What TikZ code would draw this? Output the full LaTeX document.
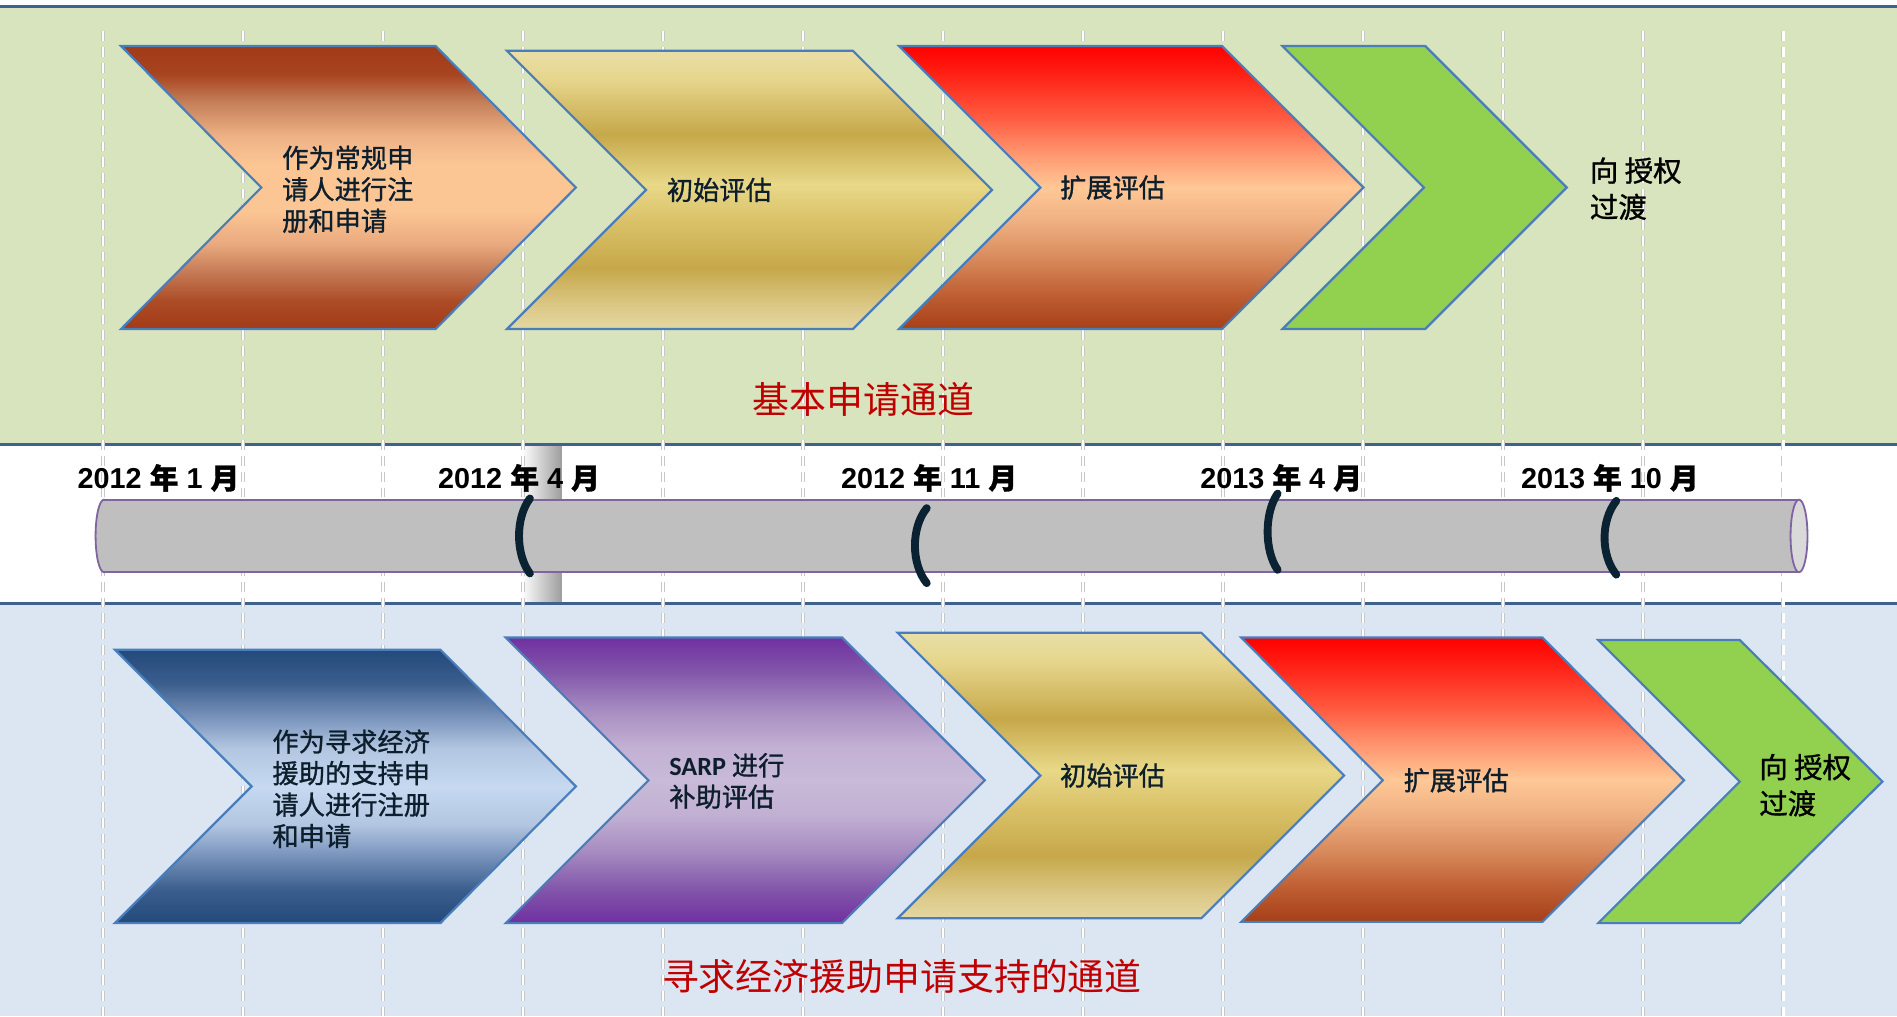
\documentclass[tikz,border=0pt]{standalone}
\usepackage{fontspec}
\newfontfamily\cjk{Noto Sans CJK SC}
\newfontfamily\cjkb{Noto Sans CJK SC}[FakeBold=1.1]
\newfontfamily\digf{Liberation Sans}
\newfontfamily\sarpf{Carlito}
\definecolor{bandG}{HTML}{D7E4BD}
\definecolor{bandB}{HTML}{DCE6F2}
\definecolor{bandL}{HTML}{3F618F}
\definecolor{stripe}{HTML}{9E9E9E}
\definecolor{cylfill}{HTML}{BFBFBF}
\definecolor{capfill}{HTML}{D9D9D9}
\definecolor{cylline}{HTML}{8064A2}
\definecolor{markc}{HTML}{0B2233}
\definecolor{chevline}{HTML}{4A7EBB}
\definecolor{chevtxt}{HTML}{0D1F2D}
\definecolor{titlered}{HTML}{C00000}
\definecolor{grn}{HTML}{92D050}
% brown
\definecolor{brA}{HTML}{A23A17}\definecolor{brB}{HTML}{A84420}\definecolor{brC}{HTML}{C5805A}
\definecolor{brD}{HTML}{EEB286}\definecolor{brE}{HTML}{FCC694}\definecolor{brF}{HTML}{E9A97E}
\definecolor{brG}{HTML}{C47A55}\definecolor{brH}{HTML}{AC4C27}
\pgfdeclareverticalshading{brownsh}{100bp}{color(0bp)=(brA); color(25bp)=(brA); color(30bp)=(brH); color(35bp)=(brG); color(40bp)=(brF); color(46bp)=(brE); color(54bp)=(brE); color(59bp)=(brD); color(65bp)=(brC); color(70bp)=(brB); color(75bp)=(brA); color(100bp)=(brA)}
% gold
\definecolor{goA}{HTML}{E8DFA8}\definecolor{goB}{HTML}{E6D68C}\definecolor{goC}{HTML}{C6A84A}
\definecolor{goD}{HTML}{E8D888}\definecolor{goE}{HTML}{D9C067}\definecolor{goF}{HTML}{DCC988}
\definecolor{goG}{HTML}{E3D7A2}
\pgfdeclareverticalshading{goldsh}{100bp}{color(0bp)=(goG); color(25bp)=(goG); color(29bp)=(goF); color(36bp)=(goC); color(44bp)=(goE); color(51bp)=(goD); color(60bp)=(goC); color(70bp)=(goB); color(75bp)=(goA); color(100bp)=(goA)}
% red
\definecolor{reA}{HTML}{FF0000}\definecolor{reB}{HTML}{FF1A10}\definecolor{reC}{HTML}{FF5A40}
\definecolor{reD}{HTML}{FF9670}\definecolor{reE}{HTML}{FFC896}\definecolor{reF}{HTML}{EFB081}
\definecolor{reG}{HTML}{D88A5C}\definecolor{reH}{HTML}{BE5E32}\definecolor{reI}{HTML}{A63F18}
\pgfdeclareverticalshading{redsh}{100bp}{color(0bp)=(reI); color(25bp)=(reI); color(31bp)=(reH); color(37.5bp)=(reG); color(44bp)=(reF); color(50bp)=(reE); color(56bp)=(reD); color(62.5bp)=(reC); color(71bp)=(reB); color(75bp)=(reA); color(100bp)=(reA)}
% blue
\definecolor{blA}{HTML}{234A7B}\definecolor{blB}{HTML}{3A5D8C}\definecolor{blC}{HTML}{7A94BC}
\definecolor{blD}{HTML}{B2C6E1}\definecolor{blE}{HTML}{C6D9F1}
\pgfdeclareverticalshading{bluesh}{100bp}{color(0bp)=(blA); color(25bp)=(blA); color(31bp)=(blB); color(37.5bp)=(blC); color(43bp)=(blD); color(50bp)=(blE); color(57bp)=(blD); color(62.5bp)=(blC); color(69bp)=(blB); color(75bp)=(blA); color(100bp)=(blA)}
% purple
\definecolor{puA}{HTML}{7030A0}\definecolor{puB}{HTML}{8256AA}\definecolor{puC}{HTML}{A68BC0}
\definecolor{puD}{HTML}{C2B0D3}\definecolor{puE}{HTML}{C8BAD8}
\pgfdeclareverticalshading{purpsh}{100bp}{color(0bp)=(puA); color(25bp)=(puA); color(31bp)=(puB); color(37.5bp)=(puC); color(44bp)=(puD); color(50bp)=(puE); color(56bp)=(puD); color(62.5bp)=(puC); color(69bp)=(puB); color(75bp)=(puA); color(100bp)=(puA)}
\newcommand{\datelbl}[2]{#1 {\cjkb 年} #2 {\cjkb 月}}
\begin{document}
\begin{tikzpicture}[x=1pt,y=-1pt,
  bandline/.style={draw=bandL, line width=2.2pt},
  dashshadow/.style={draw=black!22, line width=3.2pt, dash pattern=on 8pt off 5pt},
  dashwhite/.style={draw=white, line width=2pt, dash pattern=on 8pt off 5pt},
  chevout/.style={draw=chevline, line width=1.8pt, line join=miter},
  markstroke/.style={draw=markc, line width=6.5pt, line cap=round},
  ctext/.style={text=chevtxt, font=\cjkb\fontsize{21.7}{26}\selectfont, align=left, inner sep=0pt, anchor=west},
  gtext/.style={text=black, font=\cjkb\fontsize{23.5}{30}\selectfont, align=left, inner sep=0pt, anchor=west},
  ttext/.style={text=titlered, font=\cjk\fontsize{30.5}{30.5}\selectfont, inner sep=0pt},
  dtext/.style={text=black, font=\digf\bfseries\fontsize{23.8}{23.8}\selectfont, inner sep=0pt, anchor=west}
]
\useasboundingbox (0,0) rectangle (1568,840);
\fill[white] (0,0) rectangle (1568,840);
% bands
\fill[bandG] (0,5.5) rectangle (1568,367.5);
\fill[bandB] (0,498.7) rectangle (1568,840);
\shade[left color=white, right color=stripe] (431,367.5) rectangle (464,498.7);
\draw[bandline] (0,5.5) -- (1568,5.5);
\draw[bandline] (0,367.5) -- (1568,367.5);
\draw[bandline] (0,498.7) -- (1568,498.7);
% dashed grid
\foreach \i in {0,...,12}{
  \draw[dashshadow] ({85+115.75*\i},26) -- ({85+115.75*\i},840);
  \draw[dashwhite] ({85+115.75*\i},26) -- ({85+115.75*\i},840);
}
% timeline cylinder
\filldraw[fill=cylfill, draw=cylline, line width=1.5pt] (86,443) ellipse [x radius=7, y radius=30];
\fill[cylfill] (86,413) rectangle (1487,473);
\draw[cylline, line width=1.5pt] (86,413) -- (1487,413) (86,473) -- (1487,473);
\filldraw[fill=capfill, draw=cylline, line width=1.5pt] (1487,443) ellipse [x radius=7, y radius=30];
% markers
\draw[markstroke] (438,412) .. controls (426,428) and (426,458) .. (438,474);
\draw[markstroke] (766,420) .. controls (753,436) and (753,466) .. (766,482);
\draw[markstroke] (1056,408) .. controls (1045,424) and (1045,455) .. (1056,471);
\draw[markstroke] (1336,414) .. controls (1323,430) and (1323,459) .. (1336,475);
% date labels
\node[dtext] (d1) at (64,395) {\datelbl{2012}{1}};
\node[dtext] (d2) at (362,395) {\datelbl{2012}{4}};
\node[dtext] (d3) at (695,395) {\datelbl{2012}{11}};
\node[dtext] (d4) at (992,395) {\datelbl{2013}{4}};
\node[dtext] (d5) at (1257,395) {\datelbl{2013}{10}};
% top chevrons
\shadedraw[shading=brownsh, chevout] (100,38) -- (360,38) -- (476,155) -- (360,272) -- (100,272) -- (216,155) -- cycle;
\shadedraw[shading=goldsh, chevout] (419,42) -- (705,42) -- (820,157) -- (705,272) -- (419,272) -- (534,157) -- cycle;
\shadedraw[shading=redsh, chevout] (743,38) -- (1010,38) -- (1127,155) -- (1010,272) -- (743,272) -- (860,155) -- cycle;
\filldraw[fill=grn, chevout] (1060,38) -- (1178,38) -- (1295,155) -- (1178,272) -- (1060,272) -- (1177,155) -- cycle;
% bottom chevrons
\shadedraw[shading=bluesh, chevout] (95,537) -- (364,537) -- (476,650) -- (364,763) -- (95,763) -- (208,650) -- cycle;
\shadedraw[shading=purpsh, chevout] (418,527) -- (696,527) -- (814,645) -- (696,763) -- (418,763) -- (536,645) -- cycle;
\shadedraw[shading=goldsh, chevout] (742,523) -- (993,523) -- (1111,641) -- (993,759) -- (742,759) -- (860,641) -- cycle;
\shadedraw[shading=redsh, chevout] (1026,527) -- (1275,527) -- (1392,645) -- (1275,762) -- (1026,762) -- (1143,645) -- cycle;
\filldraw[fill=grn, chevout] (1321,529) -- (1438,529) -- (1556,646) -- (1438,763) -- (1321,763) -- (1438,646) -- cycle;
% texts top
\node[ctext] (t1) at (233,156.5) {作为常规申\\请人进行注\\册和申请};
\node[ctext] (t2) at (551,157) {初始评估};
\node[ctext] (t3) at (876,155) {扩展评估};
\node[gtext] (t4) at (1314,156) {向 授权\\过渡};
\node[ttext] (title1) at (713.5,330.5) {基本申请通道};
% texts bottom
\node[ctext] (b1t) at (225,652) {作为寻求经济\\援助的支持申\\请人进行注册\\和申请};
\node[ctext] (b2t) at (553,645.5) {{\sarpf\bfseries SARP} 进行\\补助评估};
\node[ctext] (b3t) at (876,641) {初始评估};
\node[ctext] (b4t) at (1160,645) {扩展评估};
\node[gtext] (b5t) at (1454,649) {向 授权\\过渡};
\node[ttext] (title2) at (745.5,807) {寻求经济援助申请支持的通道};
\end{tikzpicture}
\end{document}
